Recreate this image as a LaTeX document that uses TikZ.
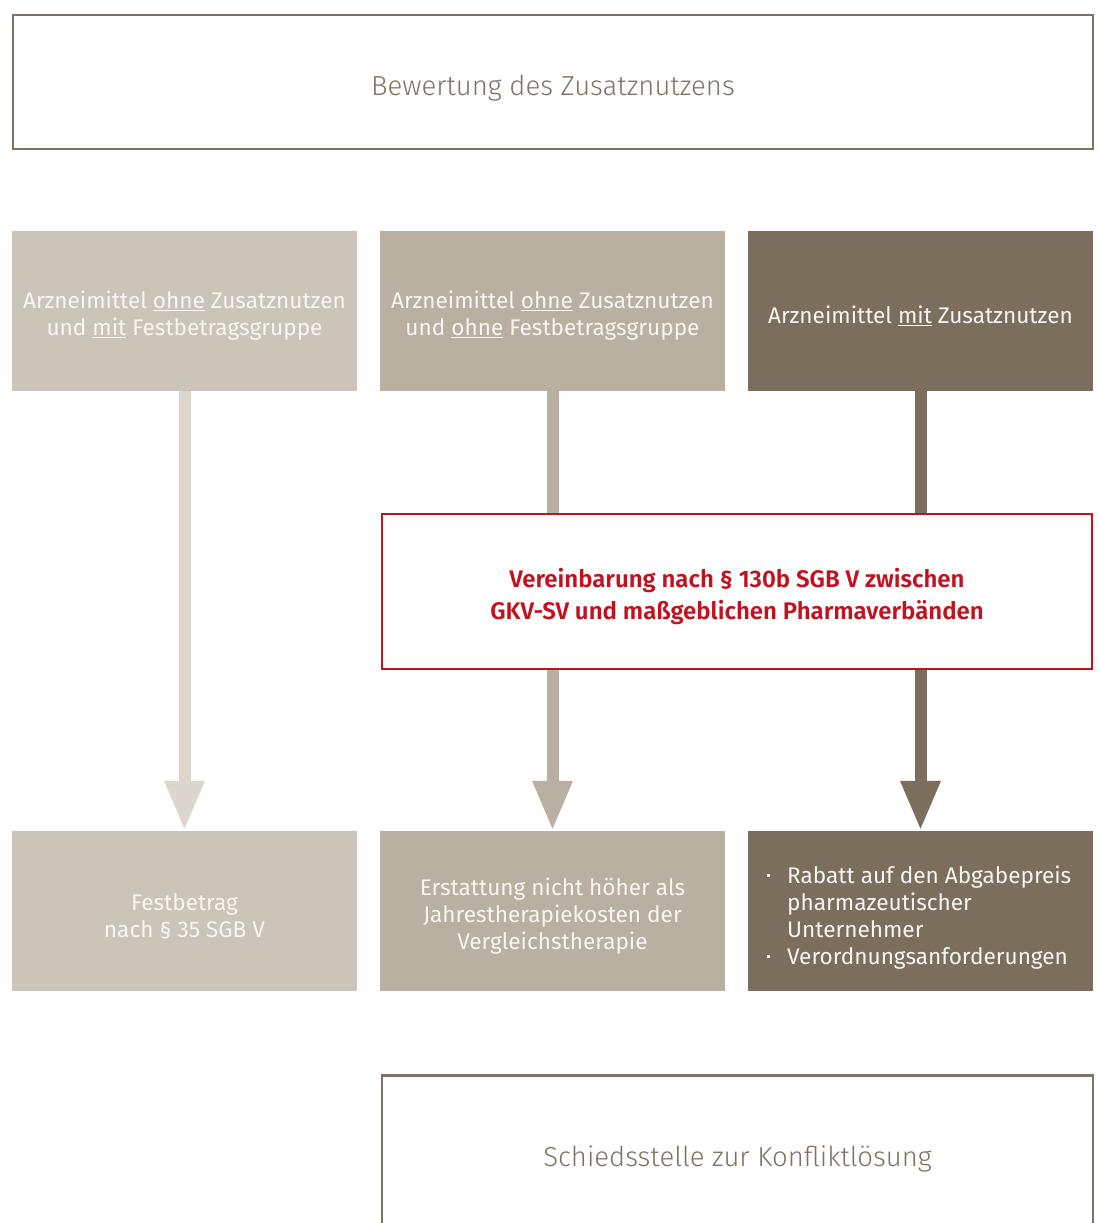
\documentclass[tikz,border=0pt]{standalone}
\usepackage{fontspec}
\setmainfont{Fira Sans}[BoldFont={Fira Sans SemiBold}]
\newfontfamily\lightfont{Fira Sans Light}
\usetikzlibrary{arrows.meta}
\definecolor{cTop}{HTML}{7F7262}
\definecolor{cLeft}{HTML}{CBC4B9}
\definecolor{cMid}{HTML}{BAB0A1}
\definecolor{cDark}{HTML}{7B6E5D}
\definecolor{cArrL}{HTML}{DCD6CE}
\definecolor{cRed}{HTML}{C1121F}
\definecolor{cTxt}{HTML}{F8F6F3}
\tikzset{
  fillbox/.style={minimum width=345pt, minimum height=160pt, inner sep=0pt},
  boxtext/.style={inner sep=0pt, align=center, text=cTxt, font=\fontsize{22.6}{27}\selectfont},
  framebox/.style={draw=cTop, line width=2.5pt, fill=white, inner sep=0pt},
  frametext/.style={inner sep=0pt, text=cTop, font=\lightfont\fontsize{27.5}{34}\selectfont},
  flowarrow/.style={line width=12pt, -{Triangle[width=37pt,length=50pt]}},
}
\newcommand{\uline}[1]{\underline{#1}}
\newcommand{\sqbullet}{\makebox[0pt][r]{\rule[6.8pt]{3.5pt}{3.5pt}\hspace{17pt}}}
\begin{document}
\begin{tikzpicture}[x=1pt,y=-1pt]
\useasboundingbox (0,0) rectangle (1098,1223);
\clip (0,0) rectangle (1098,1223);
\fill[white] (0,0) rectangle (1098,1223);

\node[framebox, minimum width=1080pt, minimum height=134pt] (top) at (553,82) {};
\node[frametext] (topt) at (553,88) {Bewertung des Zusatznutzens};

\node[fillbox, fill=cLeft] (a1) at (184.5,311) {};
\node[fillbox, fill=cMid] (b1) at (552.5,311) {};
\node[fillbox, fill=cDark] (c1) at (920.5,311) {};
\node[boxtext] (a1t) at (184.5,316) {Arzneimittel \uline{ohne} Zusatznutzen\\und \uline{mit} Festbetragsgruppe};
\node[boxtext] (b1t) at (552.5,316) {Arzneimittel \uline{ohne} Zusatznutzen\\und \uline{ohne} Festbetragsgruppe};
\node[boxtext] (c1t) at (920.5,316) {Arzneimittel \uline{mit} Zusatznutzen};

\node[fillbox, fill=cLeft] (a2) at (184.5,911) {};
\node[fillbox, fill=cMid] (b2) at (552.5,911) {};
\node[fillbox, fill=cDark] (c2) at (920.5,911) {};
\node[boxtext] (a2t) at (184.5,916.5) {Festbetrag\\nach § 35 SGB V};
\node[boxtext] (b2t) at (552.5,916.5) {Erstattung nicht höher als\\Jahrestherapiekosten der\\Vergleichstherapie};
\node[boxtext, anchor=west, align=left] (c2t) at (787,918)
  {\sqbullet Rabatt auf den Abgabepreis\\pharmazeutischer\\Unternehmer\\\sqbullet Verordnungsanforderungen};

\draw[flowarrow, cArrL] (a1.south) -- (a2.north);
\draw[flowarrow, cMid] (b1.south) -- (b2.north);
\draw[flowarrow, cDark] (c1.south) -- (c2.north);

\node[draw=cRed, line width=2pt, fill=white, minimum width=710pt, minimum height=155pt,
  inner sep=0pt] (red) at (737,591.5) {};
\node[inner sep=0pt, align=center, text=cRed, font=\bfseries\fontsize{24}{32}\selectfont]
  (redt) at (737,596) {Vereinbarung nach § 130b SGB V zwischen\\GKV-SV und maßgeblichen Pharmaverbänden};

\node[framebox, minimum width=711pt, minimum height=200pt, anchor=north] (bot) at (737.5,1074) {};
\node[frametext] (bott) at (737.5,1159) {Schiedsstelle zur Konfliktlösung};
\end{tikzpicture}
\end{document}
